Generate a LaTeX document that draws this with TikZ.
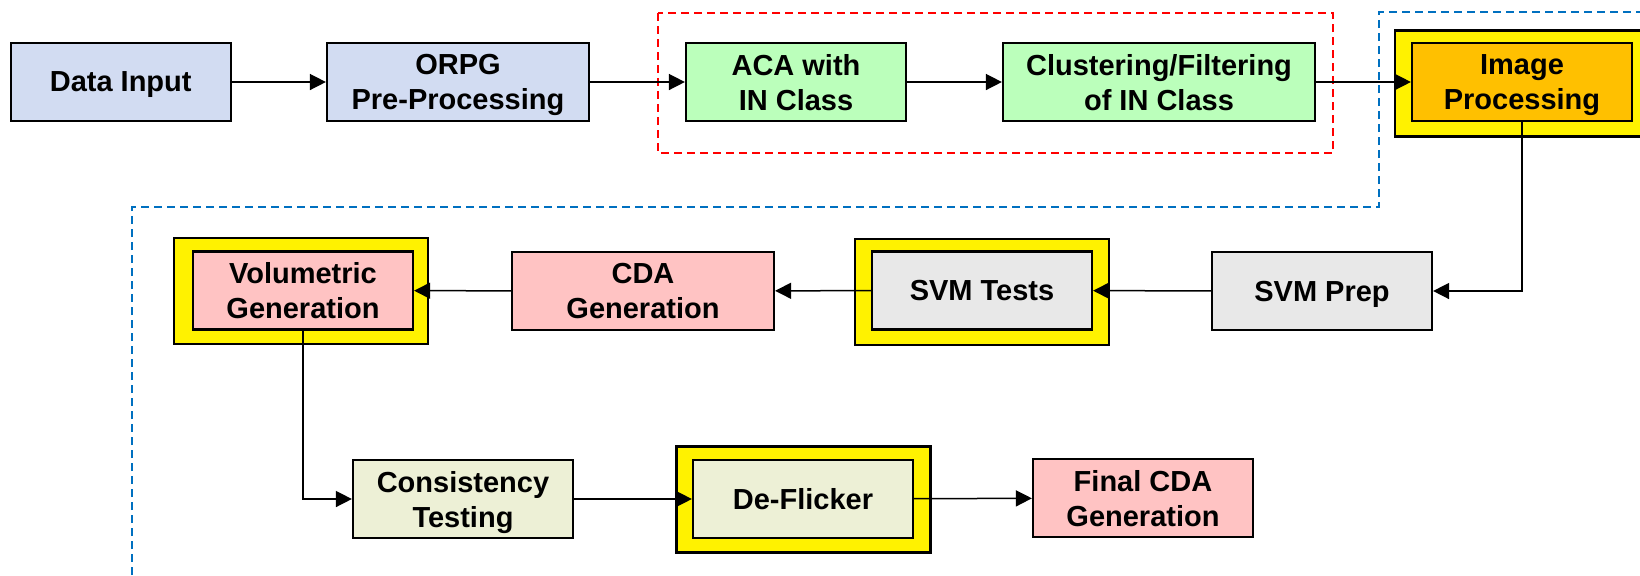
\documentclass[tikz,border=0pt]{standalone}
\usepackage{fontspec}
\setmainfont{Liberation Sans}
\usepackage{tikz}
\usetikzlibrary{arrows.meta}
\definecolor{inblue}{HTML}{D2DCF2}
\definecolor{acagreen}{HTML}{BBFFBB}
\definecolor{imgorange}{HTML}{FFC000}
\definecolor{svmgray}{HTML}{E8E8E8}
\definecolor{cdapink}{HTML}{FFC3C3}
\definecolor{testolive}{HTML}{EDF0D6}
\definecolor{grpblue}{HTML}{0070C0}

\begin{document}
\begin{tikzpicture}[x=0.5pt,y=-0.5pt,
  blk/.style={draw=black,line width=1.1pt,align=center,inner sep=0pt,text depth=0pt,
    font=\bfseries\fontsize{14.5}{17.5}\selectfont,minimum height=39pt},
  halo/.style={draw=black,line width=1.1pt,fill=yellow,minimum width=127pt,minimum height=53pt},
  arr/.style={-{Triangle[length=8pt,width=8pt]},line width=0.75pt},
  grp/.style={dashed,line width=1pt,dash pattern=on 4pt off 2.5pt}]
\useasboundingbox (0,0) rectangle (1640,575);
% dashed groups
\draw[grp,red] (658,13) rectangle (1333,153);
\draw[grp,grpblue] (132,575) -- (132,207) -- (1379,207) -- (1379,12) -- (1650,12);
% yellow frames
\node[halo] (imgframe) at (1522,83.5) {};
\node[halo] (svmframe) at (982,292) {};
\node[halo] (volframe) at (301,291) {};
\node[halo] (deflframe) at (803.5,499.5) {};
% top row
\node[blk,fill=inblue,minimum width=110pt] (data) at (120.7,82) {Data Input};
\node[blk,fill=inblue,minimum width=131pt] (orpg) at (458,82) {ORPG\\Pre-Processing};
\node[blk,fill=acagreen,minimum width=110pt] (aca) at (796,82) {ACA with\\IN Class};
\node[blk,fill=acagreen,minimum width=156pt] (clust) at (1159,82) {Clustering/Filtering\\of IN Class};
\node[blk,fill=imgorange,minimum width=110pt] (img) at (1522,82) {Image\\Processing};
% middle row
\node[blk,fill=svmgray,minimum width=110pt] (svmprep) at (1322,291) {SVM Prep};
\node[blk,fill=svmgray,minimum width=110pt] (svmtest) at (982,290.5) {SVM Tests};
\node[blk,fill=cdapink,minimum width=131pt] (cda) at (643,291) {CDA\\Generation};
\node[blk,fill=cdapink,minimum width=110pt] (vol) at (303,290.5) {Volumetric\\Generation};
% bottom row
\node[blk,fill=testolive,minimum width=110pt] (cons) at (463,499) {Consistency\\Testing};
\node[blk,fill=testolive,minimum width=110pt] (defl) at (803,499) {De-Flicker};
\node[blk,fill=cdapink,minimum width=110pt] (final) at (1143,498) {Final CDA\\Generation};
% connectors
\draw[arr] (data) -- (orpg);
\draw[arr] (orpg) -- (aca);
\draw[arr] (aca) -- (clust);
\draw[arr] (clust) -- (img);
\draw[arr] (img.south) |- (svmprep.east);
\draw[arr] (svmprep) -- (svmtest);
\draw[arr] (svmtest) -- (cda);
\draw[arr] (cda) -- (vol);
\draw[arr] (vol.south) |- (cons.west);
\draw[arr] (cons) -- (defl);
\draw[arr] (defl) -- (final);
\end{tikzpicture}
\end{document}
